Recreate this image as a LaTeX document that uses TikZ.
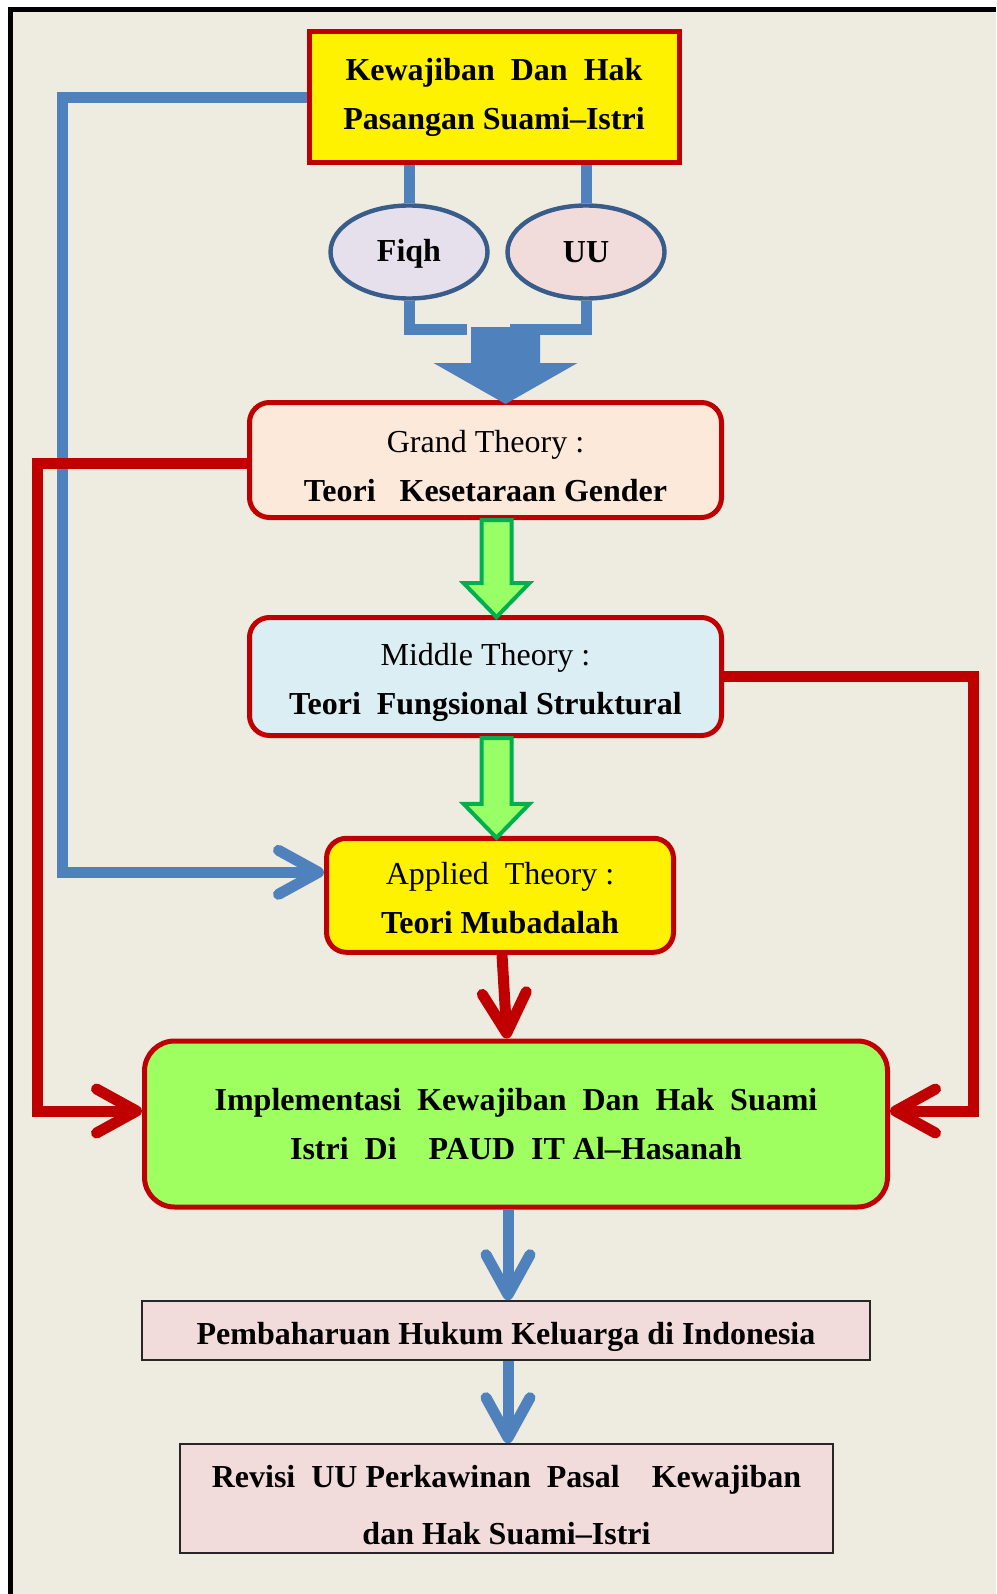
\documentclass[tikz,border=0pt]{standalone}
\usepackage{fontspec}
\setmainfont{Liberation Serif}
\usetikzlibrary{shapes.geometric,arrows.meta,calc}

\definecolor{pagebg}{RGB}{238,235,224}
\definecolor{boxred}{RGB}{192,0,0}
\definecolor{linkblue}{RGB}{79,129,189}
\definecolor{ovalblue}{RGB}{56,93,138}
\definecolor{fiqhfill}{RGB}{230,224,236}
\definecolor{rosefill}{RGB}{242,220,219}
\definecolor{grandfill}{RGB}{253,233,217}
\definecolor{middlefill}{RGB}{218,238,243}
\definecolor{implfill}{RGB}{160,255,96}
\definecolor{arrowgreen}{RGB}{153,255,102}
\definecolor{arrowedge}{RGB}{0,176,80}

\tikzset{
  txt/.style={font=\fontsize{16}{24.5}\selectfont, align=center, inner sep=0pt},
  boldtxt/.style={txt, font=\fontsize{16}{24.5}\selectfont\bfseries},
  redbox/.style={draw=boxred, line width=2.5pt, rounded corners=10pt},
  plainbox/.style={boldtxt, draw=black!85, line width=0.8pt, fill=rosefill},
  oval/.style={boldtxt, ellipse, draw=ovalblue, line width=2.2pt, minimum width=78.5pt, minimum height=46.5pt},
  blueline/.style={draw=linkblue, line width=5.5pt},
  redline/.style={draw=boxred, line width=5.5pt},
  barb/.style={-{Straight Barb[length=20pt,width=22pt,round]}},
  greenarrow/.style={fill=arrowgreen, draw=arrowedge, line width=2pt, line join=miter}
}

\begin{document}
\begin{tikzpicture}[x=0.5pt,y=-0.5pt]
  \useasboundingbox (0,0) rectangle (996,1594);
  \fill[white] (0,0) rectangle (996,1594);
  \fill[pagebg] (10.5,9.5) rectangle (996,1594);
  \draw[black, line width=2.6pt] (10.5,1594) -- (10.5,9.5) -- (996,9.5);

  \node[boldtxt, redbox, sharp corners, fill=yellow, minimum width=185pt, minimum height=65.5pt] (source) at (494,97.5) {Kewajiban~~Dan~~Hak\\Pasangan Suami–Istri};
  \node[oval, fill=fiqhfill, text height=12.5pt] (fiqh) at (409,252) {Fiqh};
  \node[oval, fill=rosefill] (uu) at (586,252) {UU};
  \node[txt, redbox, text height=41.4pt, fill=grandfill, minimum width=236pt, minimum height=57.5pt] (grand) at (485.5,460) {Grand Theory :\\\textbf{Teori~~~Kesetaraan Gender}};
  \node[txt, redbox, text height=41.4pt, fill=middlefill, minimum width=236pt, minimum height=59pt] (middle) at (485.5,676.5) {Middle Theory :\\\textbf{Teori~~Fungsional Struktural}};
  \node[txt, redbox, text height=38.4pt, fill=yellow, minimum width=173.5pt, minimum height=57pt] (applied) at (500,895.3) {Applied~~Theory :\\\textbf{Teori Mubadalah}};
  \node[boldtxt, redbox, rounded corners=15pt, fill=implfill, minimum width=371.5pt, minimum height=83pt] (impl) at (516,1124) {Implementasi~~Kewajiban~~Dan~~Hak~~Suami\\Istri~~Di~~~~PAUD~~IT Al–Hasanah};
  \node[plainbox, text height=17.5pt, minimum width=364pt, minimum height=29.5pt] (reform) at (506,1330.5) {Pembaharuan Hukum Keluarga di Indonesia};
  \node[plainbox, text height=46.4pt, font=\fontsize{16}{28.5}\selectfont\bfseries, minimum width=326.5pt, minimum height=54.5pt] (revisi) at (506.5,1498.5) {Revisi~~UU Perkawinan~~Pasal~~~~Kewajiban\\dan Hak Suami–Istri};

  \coordinate (mergeL) at (467,329);
  \coordinate (mergeR) at (510,329);
  \coordinate (merge) at (505.5,327);

  \draw[blueline] (source.south -| fiqh) -- (fiqh.north);
  \draw[blueline] (source.south -| uu) -- (uu.north);
  \draw[blueline] (fiqh.south) |- (mergeL);
  \draw[blueline] (uu.south) |- (mergeR);
  \fill[linkblue] ($(merge)+(-34.5,0)$) -- ($(merge)+(34.5,0)$) -- ($(merge)+(34.5,36)$) -- ($(merge)+(72,36)$) -- ($(merge |- grand.north)+(0,4)$) -- ($(merge)+(-72,36)$) -- ($(merge)+(-34.5,36)$) -- cycle;

  \draw[greenarrow] ($(grand.south)+(-4,0)$) -- ($(grand.south)+(26,0)$) -- ($(middle.north)+(26,-32)$) -- ($(middle.north)+(44,-32)$) -- ($(middle.north)+(11,2)$) -- ($(middle.north)+(-22,-32)$) -- ($(middle.north)+(-4,-32)$) -- cycle;
  \draw[greenarrow] ($(middle.south)+(-4,0)$) -- ($(middle.south)+(26,0)$) -- ($(middle.south |- applied.north)+(26,-32)$) -- ($(middle.south |- applied.north)+(44,-32)$) -- ($(middle.south |- applied.north)+(11,2)$) -- ($(middle.south |- applied.north)+(-22,-32)$) -- ($(middle.south |- applied.north)+(-4,-32)$) -- cycle;

  \draw[blueline, barb] (source.west) -- ++(-244,0) |- ($(applied.west)+(0,-23)$);
  \draw[redline, barb] ($(grand.west)+(0,3.5)$) -- ++(-209.5,0) |- ($(impl.west)+(0,-13)$);
  \draw[redline, barb] (middle.east) -- ++(249.5,0) |- ($(impl.east)+(0,-13)$);
  \draw[redline, barb] ($(applied.south)+(2,0)$) -- ($(impl.north)+(-9,0)$);
  \draw[blueline, barb] ($(impl.south)+(-8,0)$) -- ($(reform.north)+(2,0)$);
  \draw[blueline, barb] ($(reform.south)+(2,0)$) -- ($(revisi.north)+(1.5,0)$);
\end{tikzpicture}
\end{document}
